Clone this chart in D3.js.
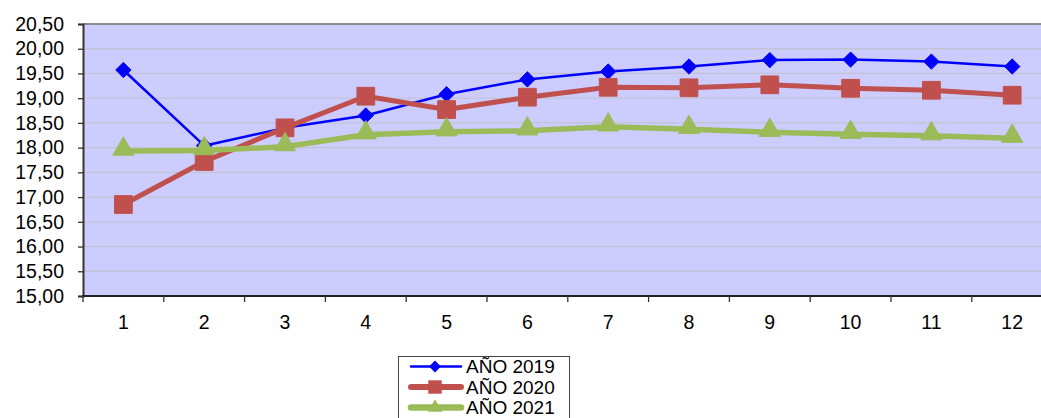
<!DOCTYPE html>
<html>
<head>
<meta charset="utf-8">
<script src="https://cdn.jsdelivr.net/npm/d3@7/dist/d3.min.js"></script>
<style>
  html, body { margin: 0; padding: 0; background: #ffffff; }
  svg { display: block; font-family: "Liberation Sans", Arial, sans-serif; }
</style>
</head>
<body>
<svg id="chart" width="1041" height="418"></svg>
<script>
// Monthly values per year
const months = [1, 2, 3, 4, 5, 6, 7, 8, 9, 10, 11, 12];
const serie2019 = [19.57, 18.04, 18.40, 18.65, 19.08, 19.38, 19.54, 19.64, 19.77, 19.78, 19.74, 19.64];
const serie2020 = [16.85, 17.72, 18.40, 19.04, 18.77, 19.02, 19.22, 19.21, 19.27, 19.20, 19.16, 19.06];
const serie2021 = [17.93, 17.94, 18.02, 18.26, 18.32, 18.34, 18.42, 18.37, 18.31, 18.27, 18.24, 18.19];
const yTicks = [15, 15.5, 16, 16.5, 17, 17.5, 18, 18.5, 19, 19.5, 20, 20.5];
const seriesNames = ["AÑO 2019", "AÑO 2020", "AÑO 2021"];

const svg = d3.select("#chart");

const plot = { left: 83, top: 24, bottom: 296, step: 80.8 };
plot.right = plot.left + months.length * plot.step;

const x = d3.scaleBand().domain(months).range([plot.left, plot.right]).paddingInner(0).paddingOuter(0);
const y = d3.scaleLinear().domain([15, 20.5]).range([plot.bottom, plot.top]);
const cx = m => x(m) + x.bandwidth() / 2;

// Plot background
svg.append("rect")
  .attr("x", plot.left).attr("y", plot.top)
  .attr("width", plot.right - plot.left).attr("height", plot.bottom - plot.top)
  .attr("fill", "#ccccff");

// Horizontal gridlines
svg.append("g").selectAll("line")
  .data(yTicks.filter(t => t > 15 && t < 20.5))
  .join("line")
  .attr("x1", plot.left).attr("x2", plot.right)
  .attr("y1", d => y(d)).attr("y2", d => y(d))
  .attr("stroke", "#c3c3d3").attr("stroke-width", 1.3);

// Top border
svg.append("line")
  .attr("x1", plot.left).attr("x2", plot.right)
  .attr("y1", plot.top).attr("y2", plot.top)
  .attr("stroke", "#8c8c8c").attr("stroke-width", 2);

// Y axis
const yAxis = d3.axisLeft(y)
  .tickValues(yTicks)
  .tickSize(5)
  .tickPadding(14)
  .tickFormat(d => d3.format(".2f")(d).replace(".", ","));
const gy = svg.append("g").attr("transform", `translate(${plot.left},0)`).call(yAxis);
gy.select(".domain").attr("stroke", "#333").attr("stroke-width", 2);
gy.selectAll(".tick line").attr("stroke", "#333").attr("stroke-width", 1.3);
gy.selectAll(".tick text")
  .attr("fill", "#000")
  .style("font-size", "19.5px")
  .attr("font-family", "'Liberation Sans', Arial, sans-serif");

// X axis: ticks sit on category boundaries, labels at category centres
const gx = svg.append("g");
gx.append("line")
  .attr("x1", plot.left - 1).attr("x2", plot.right)
  .attr("y1", plot.bottom).attr("y2", plot.bottom)
  .attr("stroke", "#222").attr("stroke-width", 2);
gx.selectAll("line.tk")
  .data(months)
  .join("line").attr("class", "tk")
  .attr("x1", d => x(d)).attr("x2", d => x(d))
  .attr("y1", plot.bottom).attr("y2", plot.bottom + 6)
  .attr("stroke", "#333").attr("stroke-width", 1.3);
gx.selectAll("text")
  .data(months)
  .join("text")
  .attr("x", d => cx(d))
  .attr("y", 329)
  .attr("text-anchor", "middle")
  .style("font-size", "19.5px")
  .attr("fill", "#000")
  .text(d => d);

// Series definitions
const seriesDefs = [
  { name: seriesNames[0], values: serie2019, color: "#0000ff", width: 2.5, marker: "diamond" },
  { name: seriesNames[1], values: serie2020, color: "#c0504d", width: 5, marker: "square" },
  { name: seriesNames[2], values: serie2021, color: "#9bbb59", width: 5.5, marker: "triangle" }
];

const markerPath = {
  diamond: d3.symbol().type(d3.symbolDiamond2).size(150),
  square: d3.symbol().type(d3.symbolSquare2).size(400),
  triangle: d3.symbol().type(d3.symbolTriangle2).size(320)
};

const line = d3.line().x((d, i) => cx(months[i])).y(d => y(d));

seriesDefs.forEach(s => {
  const g = svg.append("g");
  g.append("path")
    .datum(s.values)
    .attr("d", line)
    .attr("fill", "none")
    .attr("stroke", s.color)
    .attr("stroke-width", s.width)
    .attr("stroke-linejoin", "round");
  g.selectAll("path.mk")
    .data(s.values)
    .join("path").attr("class", "mk")
    .attr("transform", (d, i) => `translate(${cx(months[i])},${y(d) + (s.marker === "triangle" ? -2 : 0)})`)
    .attr("d", markerPath[s.marker]())
    .attr("fill", s.color)
    .attr("stroke", s.color)
    .attr("stroke-width", 1);
});

// Legend
const legend = svg.append("g");
legend.append("rect")
  .attr("x", 398.5).attr("y", 356.5)
  .attr("width", 171).attr("height", 80)
  .attr("fill", "#fff")
  .attr("stroke", "#444").attr("stroke-width", 1);

const legendMarker = {
  diamond: d3.symbol().type(d3.symbolDiamond2).size(90),
  square: d3.symbol().type(d3.symbolSquare2).size(230),
  triangle: d3.symbol().type(d3.symbolTriangle2).size(150)
};

seriesDefs.forEach((s, i) => {
  const ly = 366.5 + i * 20.5;
  const g = legend.append("g");
  g.append("line")
    .attr("x1", 411).attr("x2", 461)
    .attr("y1", ly).attr("y2", ly)
    .attr("stroke", s.color)
    .attr("stroke-width", s.width + (s.marker === "diamond" ? 0 : 1))
    .attr("stroke-linecap", "round");
  g.append("path")
    .attr("transform", `translate(435,${ly})`)
    .attr("d", legendMarker[s.marker]())
    .attr("fill", s.color);
  g.append("text")
    .attr("x", 466)
    .attr("y", ly + 6.5)
    .style("font-size", "19px")
    .attr("fill", "#000")
    .text(s.name);
});
</script>
</body>
</html>
